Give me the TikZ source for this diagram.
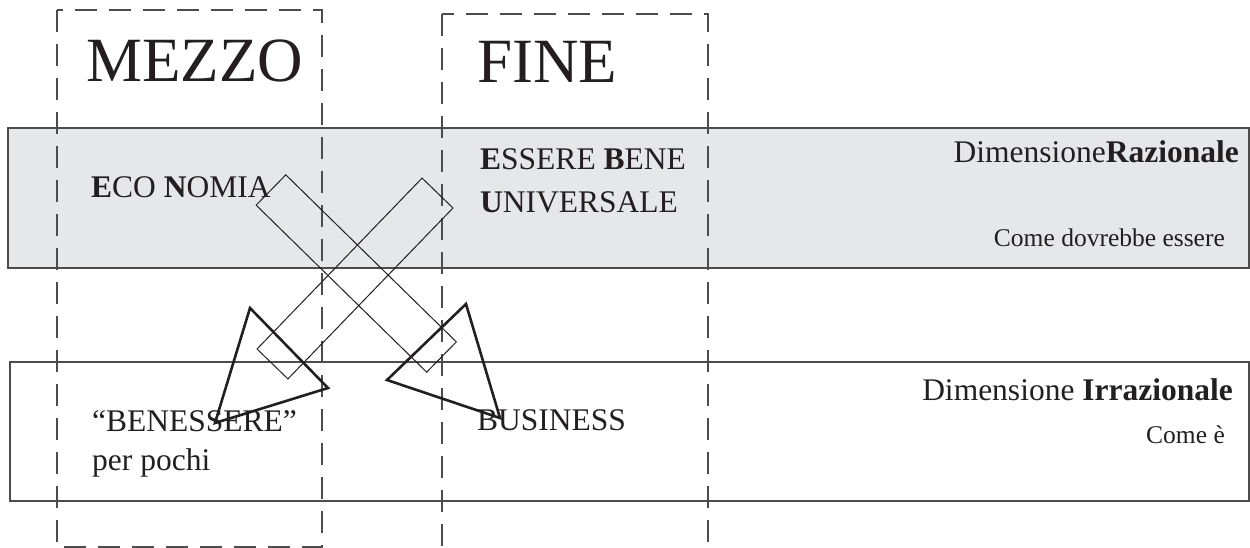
\documentclass[tikz,border=0pt]{standalone}
\usepackage{fontspec}
\setmainfont{Liberation Serif}
\usepackage{tikz}
\usetikzlibrary{calc}
\definecolor{bandgray}{HTML}{E6E7E8}
\definecolor{ink}{HTML}{231F20}

\begin{document}
\begin{tikzpicture}[x=1pt, y=-1pt,
  band/.style={draw=black!70, line width=1.2pt},
  colbox/.style={draw=black!70, line width=1.2pt, dash pattern=on 22pt off 12pt},
  heading/.style={inner sep=0pt, anchor=base west, text=ink, font=\fontsize{63}{70}\selectfont},
  word/.style={inner sep=0pt, anchor=base west, text=ink, font=\fontsize{31.5}{38}\selectfont},
  note/.style={inner sep=0pt, anchor=base east, text=ink, font=\fontsize{25.5}{30}\selectfont},
  shaft/.style={draw=ink, line width=1pt, rectangle, inner sep=0pt},
  headtri/.style={draw=ink, line width=2.6pt, line join=miter}]
  \useasboundingbox (0,0) rectangle (1250,548);
  \draw [band, fill=bandgray] (8,128) rectangle (1249,268);
  \draw [band] (10,362) rectangle (1249,501);
  \draw [colbox] (57,10) rectangle (322,547);
  \draw [colbox] (442,14) rectangle (708,570);
  \node [heading] (mezzo) at ( 86, 82) {MEZZO};
  \node [heading] (fine)  at (477, 83) {FINE};
  \node [word] (economia)   at ( 91, 197.5) {\textbf{E}CO \textbf{N}OMIA};
  \node [word] (essere)     at (480, 169.5) {\textbf{E}SSERE \textbf{B}ENE};
  \node [word] (universale) at (480, 212.5) {\textbf{U}NIVERSALE};
  \node [word] (benessere)  at ( 92, 431.5) {“BENESSERE”};
  \node [word] (pochi)      at ( 92, 470) {per pochi};
  \node [word] (business)   at (477, 430) {BUSINESS};
  \node [word, anchor=base east] (razionale)   at (1239, 163) {Dimensione\textbf{Razionale}};
  \node [word, anchor=base east] (irrazionale) at (1233, 400) {Dimensione \textbf{Irrazionale}};
  \node [note] (dovrebbe) at (1225, 247) {Come dovrebbe essere};
  \node [note] (comee)    at (1225, 443) {Come è};
  \node [shaft, rotate=-44.4, minimum width=238.7pt, minimum height=42.4pt] (versobusiness) at (356.25, 273.5) {};
  \node [shaft, rotate=46, minimum width=237.6pt, minimum height=43pt] (versobenessere) at (355, 278.5) {};
  \draw [headtri] (466,304) -- (387,380) -- (500,418) -- cycle;
  \draw [headtri] (250,308) -- (328,388) -- (215,423) -- cycle;
\end{tikzpicture}
\end{document}
